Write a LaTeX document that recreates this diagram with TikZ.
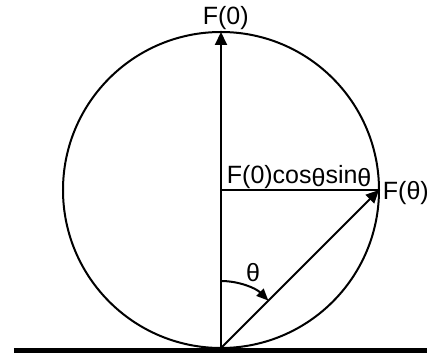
\documentclass[tikz,border=0pt]{standalone}
\usepackage{fontspec}
\setmainfont{Liberation Sans}
\usepackage{tikz}
\usetikzlibrary{arrows.meta}

\begin{document}
\begin{tikzpicture}[
    x=1pt, y=1pt,
    force/.style={-{Triangle[length=13pt,width=12pt]}, line width=2pt},
    angarrow/.style={-{Triangle[length=12pt,width=10pt]}, line width=2pt},
    lbl/.style={inner sep=0pt, font=\fontsize{25pt}{29pt}\selectfont}
]
\useasboundingbox (-221,-10) rectangle (212,348);

% Points
\coordinate (base) at (0,0);
\coordinate (top) at (0,316);
\coordinate (centre) at (0,158);
\coordinate (ftheta) at (158,158);
\coordinate (groundL) at (-207,-2.65);
\coordinate (groundR) at (206,-2.65);

% Circle and ground
\draw[line width=2pt] (centre) circle (158);
\draw[line width=5.3pt] (groundL) -- (groundR);

% Forces
\draw[force] (base) -- (top);
\draw[force] (base) -- (ftheta);
\draw[line width=2pt] (centre) -- (ftheta);

% Angle
\draw[angarrow] (0,67) arc (90:45:67);

% Labels
\node[lbl, anchor=base] (ftop) at (4.7,323.5) {F(0)};
\node[lbl, anchor=base west] (fproj) at (5.7,164) {F(0)cos\raisebox{-0.12em}{θ}sin\raisebox{-0.12em}{θ}};
\node[lbl, anchor=west] (fthlbl) at (161.7,155) {F(θ)};
\node[lbl] (thlbl) at (32,75) {θ};

\end{tikzpicture}
\end{document}
